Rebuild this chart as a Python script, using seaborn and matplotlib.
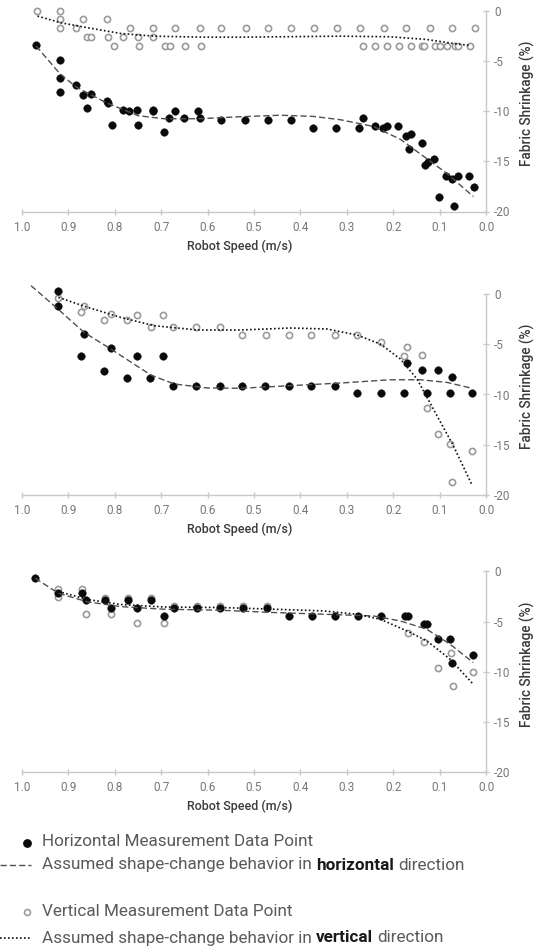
import numpy as np
import pandas as pd
import seaborn as sns
import matplotlib
matplotlib.use("Agg")
import matplotlib.pyplot as plt
from matplotlib.lines import Line2D

# ---------------- data ----------------
# Panel 1
p1_h_x = [0.969, 0.918, 0.918, 0.918, 0.883, 0.869, 0.851, 0.860, 0.817, 0.815, 0.805, 0.783, 0.770,
          0.751, 0.750, 0.717, 0.718, 0.694, 0.683, 0.670, 0.651, 0.621, 0.617, 0.571, 0.520, 0.470,
          0.421, 0.373, 0.323, 0.273, 0.265, 0.240, 0.222, 0.214, 0.189, 0.173, 0.162, 0.166, 0.138,
          0.133, 0.125, 0.112, 0.087, 0.074, 0.060, 0.101, 0.069, 0.037, 0.026]
p1_h_y = [-3.35, -4.92, -6.68, -8.08, -7.42, -8.35, -8.25, -9.68, -8.95, -9.2, -11.35, -9.85, -9.95,
          -9.85, -11.35, -9.85, -10.0, -12.12, -10.68, -10.02, -10.68, -10.02, -10.68, -10.85, -10.85,
          -10.85, -10.85, -11.72, -11.72, -11.72, -10.68, -11.52, -11.72, -11.52, -11.52, -12.52, -12.32,
          -13.75, -13.18, -15.35, -15.08, -14.78, -16.42, -16.75, -16.42, -18.58, -19.42, -16.42, -17.58]
p1_v_x = [0.967, 0.917, 0.917, 0.917, 0.883, 0.867, 0.860, 0.850, 0.817, 0.815, 0.802, 0.781, 0.767,
          0.749, 0.747, 0.717, 0.717, 0.692, 0.681, 0.669, 0.649, 0.617, 0.615, 0.570, 0.518,
          0.470, 0.420, 0.370, 0.321, 0.271, 0.221, 0.172, 0.122, 0.073, 0.024,
          0.265, 0.239, 0.213, 0.188, 0.162, 0.139, 0.134, 0.110, 0.099, 0.085, 0.067, 0.060, 0.035]
p1_v_y = [0, 0, -0.85, -1.75, -1.75, -0.85, -2.62, -2.62, -0.85, -2.62, -3.52, -2.62, -1.75,
          -2.62, -3.52, -1.75, -2.62, -3.52, -3.52, -1.75, -3.52, -1.75, -3.52, -1.75, -1.75,
          -1.75, -1.75, -1.75, -1.75, -1.75, -1.75, -1.75, -1.75, -1.75, -1.75,
          -3.52, -3.52, -3.52, -3.52, -3.52, -3.52, -3.52, -3.52, -3.52, -3.52, -3.52, -3.52, -3.52]
p1_hfit_x = [0.969, 0.918, 0.883, 0.817, 0.749, 0.694, 0.617, 0.529, 0.443, 0.372, 0.314, 0.243, 0.185, 0.135, 0.085, 0.028]
p1_hfit_y = [-3.5, -6.25, -7.58, -9.18, -10.45, -10.75, -10.75, -10.55, -10.4, -10.52, -10.85, -11.52, -12.8, -14.5, -16.2, -18.5]
p1_vfit_x = [0.966, 0.916, 0.858, 0.787, 0.715, 0.608, 0.529, 0.314, 0.207, 0.128, 0.071, 0.035]
p1_vfit_y = [-0.52, -1.18, -1.68, -2.25, -2.52, -2.62, -2.62, -2.52, -2.58, -2.85, -3.25, -3.45]

# Panel 2
p2_h_x = [0.921, 0.921, 0.866, 0.873, 0.808, 0.823, 0.752, 0.774, 0.695, 0.724, 0.674, 0.624, 0.574, 0.526,
          0.477, 0.425, 0.377, 0.326, 0.278, 0.227, 0.178, 0.128, 0.079, 0.030, 0.171, 0.138, 0.105, 0.074]
p2_h_y = [0.35, -1.15, -3.97, -6.2, -5.4, -7.69, -6.13, -8.39, -6.13, -8.39, -9.12, -9.12, -9.12, -9.12,
          -9.12, -9.12, -9.12, -9.12, -9.85, -9.85, -9.85, -9.85, -9.85, -9.85, -6.86, -7.56, -7.56, -8.29]
p2_v_x = [0.921, 0.873, 0.866, 0.823, 0.808, 0.774, 0.752, 0.722, 0.695, 0.674, 0.624, 0.574, 0.526, 0.475,
          0.425, 0.377, 0.326, 0.278, 0.227, 0.171, 0.178, 0.138, 0.128, 0.105, 0.079, 0.030, 0.074]
p2_v_y = [-0.42, -1.81, -1.21, -2.54, -2.01, -2.54, -2.04, -3.31, -2.04, -3.31, -3.31, -3.31, -4.04, -4.04,
          -4.04, -4.04, -4.04, -4.04, -4.74, -5.23, -6.2, -6.03, -11.35, -13.94, -14.9, -15.67, -18.76]
p2_hfit_x = [0.980, 0.930, 0.866, 0.808, 0.722, 0.672, 0.600, 0.529, 0.422, 0.315, 0.207, 0.142, 0.085, 0.031]
p2_hfit_y = [0.85, -1.15, -3.8, -5.47, -8.06, -8.95, -9.35, -9.38, -9.12, -8.86, -8.53, -8.53, -8.79, -9.38]
p2_vfit_x = [0.921, 0.858, 0.787, 0.715, 0.622, 0.529, 0.422, 0.343, 0.278, 0.228, 0.185, 0.149, 0.114, 0.071, 0.030]
p2_vfit_y = [-0.32, -1.31, -2.31, -3.14, -3.57, -3.57, -3.37, -3.47, -4.07, -4.97, -6.46, -8.46, -11.45, -15.1, -19.09]

# Panel 3
p3_h_x = [0.971, 0.921, 0.870, 0.862, 0.820, 0.807, 0.771, 0.751, 0.721, 0.694, 0.672, 0.622, 0.573, 0.523,
          0.473, 0.424, 0.375, 0.325, 0.276, 0.226, 0.176, 0.168, 0.135, 0.127, 0.103, 0.078, 0.073, 0.028]
p3_h_y = [-0.68, -2.11, -2.11, -2.87, -2.87, -3.67, -2.87, -3.67, -2.87, -4.44, -3.67, -3.67, -3.67, -3.67,
          -3.67, -4.44, -4.44, -4.44, -4.44, -4.44, -4.44, -4.44, -5.2, -5.25, -6.76, -6.76, -9.09, -8.36]
p3_v_x = [0.921, 0.921, 0.870, 0.862, 0.820, 0.807, 0.771, 0.751, 0.721, 0.694, 0.672, 0.622, 0.573, 0.523,
          0.473, 0.168, 0.135, 0.076, 0.103, 0.071, 0.028]
p3_v_y = [-1.71, -2.51, -1.71, -4.27, -2.61, -4.27, -2.61, -5.17, -2.61, -5.17, -3.45, -3.45, -3.45, -3.45,
          -3.45, -6.1, -7.0, -8.16, -9.65, -11.42, -10.02]
p3_hfit_x = [0.971, 0.921, 0.858, 0.787, 0.694, 0.572, 0.457, 0.350, 0.243, 0.185, 0.128, 0.078, 0.028]
p3_hfit_y = [-0.68, -2.18, -3.04, -3.51, -3.77, -3.87, -4.1, -4.27, -4.44, -4.94, -5.77, -7.26, -9.09]
p3_vfit_x = [0.921, 0.858, 0.787, 0.694, 0.572, 0.457, 0.350, 0.278, 0.228, 0.171, 0.128, 0.078, 0.028]
p3_vfit_y = [-2.0, -2.8, -3.3, -3.55, -3.6, -3.77, -3.94, -4.27, -4.77, -5.93, -6.93, -8.75, -11.25]

x_ticks = [1.0, 0.9, 0.8, 0.7, 0.6, 0.5, 0.4, 0.3, 0.2, 0.1, 0.0]
y_ticks = [0, -5, -10, -15, -20]
x_label = "Robot Speed (m/s)"
y_label = "Fabric Shrinkage (%)"
legend_labels = ["Horizontal Measurement Data Point",
                 ("Assumed shape-change behavior in", "horizontal", "direction"),
                 "Vertical Measurement Data Point",
                 ("Assumed shape-change behavior in", "vertical", "direction")]

panels = [
    dict(hx=p1_h_x, hy=p1_h_y, vx=p1_v_x, vy=p1_v_y, hfx=p1_hfit_x, hfy=p1_hfit_y, vfx=p1_vfit_x, vfy=p1_vfit_y),
    dict(hx=p2_h_x, hy=p2_h_y, vx=p2_v_x, vy=p2_v_y, hfx=p2_hfit_x, hfy=p2_hfit_y, vfx=p2_vfit_x, vfy=p2_vfit_y),
    dict(hx=p3_h_x, hy=p3_h_y, vx=p3_v_x, vy=p3_v_y, hfx=p3_hfit_x, hfy=p3_hfit_y, vfx=p3_vfit_x, vfy=p3_vfit_y),
]

# ---------------- style ----------------
sns.set_theme(style="white")
plt.rcParams["font.family"] = ["Roboto", "DejaVu Sans"]

W, H = 541, 949
fig = plt.figure(figsize=(W / 100, H / 100), dpi=100)

SPINE = "#c9c9c9"
TICKC = "#777777"
LABC = "#3a3a3a"
GRAY = "#9b9b9b"

left_px, right_px = 21.7, 486.3
px_per_unit = 10.03
panel_geo = [(211.5, 1.1), (494.8, 2.0), (772.0, 2.0)]

for i, (p, (bot_px, ytop)) in enumerate(zip(panels, panel_geo)):
    height_px = (20 + ytop) * px_per_unit
    ax = fig.add_axes([left_px / W, 1 - bot_px / H, (right_px - left_px) / W, height_px / H])
    ax.set_facecolor("none")

    dfh = pd.DataFrame({"speed": p["hx"], "shrink": p["hy"]})
    dfv = pd.DataFrame({"speed": p["vx"], "shrink": p["vy"]})
    dfhf = pd.DataFrame({"speed": p["hfx"], "shrink": p["hfy"]})
    dfvf = pd.DataFrame({"speed": p["vfx"], "shrink": p["vfy"]})

    sns.scatterplot(data=dfv, x="speed", y="shrink", ax=ax, marker="o", s=20,
                    facecolor="white", edgecolor=GRAY, linewidth=1.2, zorder=3, clip_on=False)
    sns.scatterplot(data=dfh, x="speed", y="shrink", ax=ax, marker="o", s=30,
                    color="#0a0a0a", edgecolor="#0a0a0a", linewidth=0.3, zorder=4, clip_on=False)
    sns.lineplot(data=dfhf, x="speed", y="shrink", ax=ax, sort=False, estimator=None,
                 color="#505050", linewidth=1.0, dashes=False, zorder=5)
    ax.lines[-1].set_linestyle((0, (4.5, 2.2)))
    sns.lineplot(data=dfvf, x="speed", y="shrink", ax=ax, sort=False, estimator=None,
                 color="#111111", linewidth=1.2, zorder=5)
    ax.lines[-1].set_linestyle((0, (1.0, 1.4)))
    for ln in ax.lines:
        ln.set_clip_on(False)

    ax.set_xlim(1.0, 0.0)
    ax.set_ylim(-20, ytop)
    ax.set_xticks(x_ticks)
    ax.set_xticklabels([f"{t:.1f}" for t in x_ticks])
    ax.set_yticks(y_ticks)
    ax.set_yticklabels([f"{t:d}" for t in y_ticks])
    ax.yaxis.tick_right()
    ax.set_xlabel("")
    ax.set_ylabel("")

    for s in ["top", "left"]:
        ax.spines[s].set_visible(False)
    for s in ["right", "bottom"]:
        ax.spines[s].set_color(SPINE)
        ax.spines[s].set_linewidth(1.0)
    ax.spines["right"].set_bounds(-20, 0)
    ax.spines["bottom"].set_bounds(0.0, 1.0)

    ax.tick_params(axis="x", direction="inout", length=5, width=1.0, color=SPINE,
                   labelcolor=TICKC, labelsize=8.5, pad=4, bottom=True)
    ax.tick_params(axis="y", direction="inout", length=5, width=1.0, color=SPINE,
                   labelcolor=TICKC, labelsize=8.5, pad=3, right=True, left=False)

    fig.text(240 / W, 1 - (bot_px + 34.5) / H, x_label, ha="center", va="center",
             fontsize=9, color=LABC, fontweight="medium")
    fig.text(527 / W, 1 - (bot_px - 108) / H, y_label, ha="center", va="center",
             rotation=90, fontsize=9.8, color=LABC, fontweight="medium")

# ---------------- legend (manual, bottom) ----------------
renderer = fig.canvas.get_renderer()
LEGC = "#5a5a5a"
LEGB = "#1a1a1a"
LFS = 12.3


def rich(x_px, y_px, parts):
    space = fig.text(0, 0, "a a", fontsize=LFS)
    w_aa = space.get_window_extent(renderer=renderer).width
    space.set_text("aa")
    w_space = w_aa - space.get_window_extent(renderer=renderer).width
    space.remove()
    x = x_px
    for s, w, c in parts:
        t = fig.text(x / W, 1 - y_px / H, s, ha="left", va="center", fontsize=LFS,
                     fontweight=w, color=c)
        x += t.get_window_extent(renderer=renderer).width + w_space


rows_y = [842, 865, 912, 938]
text_x = 42
fig.add_artist(Line2D([27 / W], [1 - (rows_y[0] + 1) / H], marker="o", markersize=5.3,
                      color="#0a0a0a", linestyle="none", transform=fig.transFigure))
rich(text_x, rows_y[0], [(legend_labels[0], "normal", LEGC)])
fig.add_artist(Line2D([0, 31 / W], [1 - rows_y[1] / H] * 2, color="#505050", linewidth=1.0,
                      linestyle=(0, (4.5, 2.2)), transform=fig.transFigure))
a, b, c = legend_labels[1]
rich(text_x, rows_y[1], [(a, "normal", LEGC), (b, "bold", LEGB), (c, "normal", LEGC)])
fig.add_artist(Line2D([27 / W], [1 - rows_y[2] / H], marker="o", markersize=4.3,
                      markerfacecolor="white", markeredgecolor=GRAY, markeredgewidth=1.2,
                      linestyle="none", transform=fig.transFigure))
rich(text_x, rows_y[2], [(legend_labels[2], "normal", LEGC)])
fig.add_artist(Line2D([0, 31 / W], [1 - rows_y[3] / H] * 2, color="#111111", linewidth=1.2,
                      linestyle=(0, (1.0, 1.4)), transform=fig.transFigure))
a, b, c = legend_labels[3]
rich(text_x, rows_y[3], [(a, "normal", LEGC), (b, "bold", LEGB), (c, "normal", LEGC)])

fig.savefig("out.png", dpi=100, facecolor="white")
